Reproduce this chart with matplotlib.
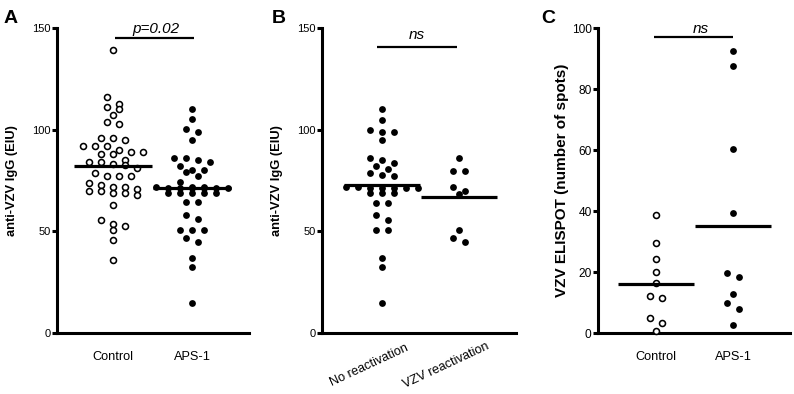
# coding=utf-8
import matplotlib
matplotlib.use('Agg')
import matplotlib.pyplot as plt
import matplotlib.transforms as mtransforms
import numpy as np

plt.rcParams['font.family'] = ['Liberation Sans', 'DejaVu Sans']

# ---- dados ----
# painel A: anti-VZV IgG (EIU)
cat_a = ['Control', 'APS-1']
ctrl_a = [139.0, 116.1, 112.8, 111.1, 110.2, 107.4, 103.9, 103.0, 96.1, 95.1, 96.1,
          92.1, 92.1, 92.1, 89.8, 88.9, 88.9, 87.9, 87.9, 83.9, 84.9, 83.9, 82.6, 83.0,
          81.3, 78.7, 77.0, 77.0, 77.0, 73.8, 72.8, 71.8, 71.8, 70.8, 69.8, 69.8, 68.9,
          68.9, 67.9, 63.0, 55.7, 53.8, 52.8, 50.8, 45.9, 35.7]
aps_a = [110.0, 105.0, 100.2, 99.0, 94.9, 85.9, 85.9, 84.9, 83.9, 82.0, 80.0, 80.0,
         79.0, 77.0, 74.1, 71.8, 71.7, 71.6, 71.5, 71.5, 71.4, 71.4, 71.3, 71.2,
         69.0, 69.0, 69.0, 68.8, 68.8, 64.2, 64.2, 58.0, 55.9, 50.8, 50.8, 50.8,
         46.8, 44.8, 36.8, 32.7, 14.9]
line_a = [82.3, 71.2]

# painel B: anti-VZV IgG (EIU) por reativacao
cat_b = ['No reactivation', 'VZV reactivation']
norea_b = [110.0, 104.9, 99.8, 99.0, 99.0, 94.9, 86.0, 85.0, 83.7, 81.9, 80.9, 78.9,
           77.6, 77.0, 71.7, 71.6, 71.5, 71.5, 71.4, 71.4, 71.3, 68.8, 68.8, 68.8,
           63.7, 63.7, 57.9, 55.8, 50.8, 50.8, 36.7, 32.7, 14.6]
rea_b = [85.9, 79.8, 79.8, 71.9, 69.9, 68.6, 50.8, 46.7, 44.7]
line_b = [72.6, 66.7]

# painel C: VZV ELISPOT
cat_c = ['Control', 'APS-1']
ctrl_c = [38.9, 29.5, 24.5, 20.2, 16.4, 12.2, 11.5, 4.9, 3.3, 0.7]
aps_c = [92.7, 87.7, 60.5, 39.3, 19.9, 18.4, 12.9, 9.8, 7.9, 2.6]
line_c = [16.3, 35.1]

yticks_ab = [0, 50, 100, 150]
yticks_c = [0, 20, 40, 60, 80, 100]

LW = 2.2  # espessura dos eixos


def swarm(ax, vals, bin_px=5.0, step_px=12.0, half_px=38.0):
    """Espalha os pontos em linhas (estilo Prism) usando a escala do eixo"""
    vals = np.asarray(vals, dtype=float)
    p0 = ax.transData.transform((0, 0))
    p1 = ax.transData.transform((1, 1))
    ppx = p1[0] - p0[0]
    ppy = p1[1] - p0[1]
    order = np.argsort(-vals, kind='stable')
    bins = []
    cur = [order[0]]
    for i in order[1:]:
        if (vals[cur[0]] - vals[i]) * ppy < bin_px:
            cur.append(i)
        else:
            bins.append(cur)
            cur = [i]
    bins.append(cur)
    offs = np.zeros(len(vals))
    for b in bins:
        n = len(b)
        step = step_px if n == 1 else min(step_px, 2 * half_px / (n - 1))
        for k, i in enumerate(b):
            offs[i] = (k - (n - 1) / 2.0) * step / ppx
    return offs


def grupo(ax, pos, vals, cheio, bin_px=5.0):
    x = pos + swarm(ax, vals, bin_px)
    if cheio:
        ax.plot(x, vals, 'o', ms=4.9, mfc='black', mec='black', mew=0,
                clip_on=False, zorder=3)
    else:
        ax.plot(x, vals, 'o', ms=4.3, mfc='white', mec='black', mew=1.15,
                clip_on=False, zorder=3)


def eixo(ax, xlim, ylim, yticks, ylabel, ylab_x, ylab_size, tick_size):
    ax.set_xlim(xlim)
    ax.set_ylim(ylim)
    ax.spines['top'].set_visible(False)
    ax.spines['right'].set_visible(False)
    ax.spines['left'].set_linewidth(LW)
    ax.spines['bottom'].set_linewidth(LW)
    ax.set_yticks(yticks)
    ax.tick_params(axis='y', length=3.8, width=LW, pad=0.8, labelsize=tick_size)
    ax.tick_params(axis='x', length=0)
    ax.text(ylab_x, 0.5, ylabel, transform=ax.transAxes, rotation=90,
            ha='center', va='center', fontsize=ylab_size, fontweight='bold')


def linhas(ax, medias):
    for i, m in enumerate(medias):
        ax.plot([i - 0.49, i + 0.49], [m, m], color='black', lw=2.3,
                solid_capstyle='butt', zorder=4)


def barra(ax, x0, x1, y, texto, ty, tx):
    ax.plot([x0, x1], [y, y], color='black', lw=1.6, clip_on=False,
            solid_capstyle='butt')
    ax.text(tx, ty, texto, ha='center', va='baseline', fontsize=11,
            fontstyle='italic', clip_on=False)


fig = plt.figure(figsize=(7.94, 3.94), dpi=100)

# ---- painel A ----
axA = fig.add_axes([57 / 794, 1 - 333 / 394, 192 / 794, 305 / 394])
eixo(axA, (-0.71, 1.72), (0, 150), yticks_ab, 'anti-VZV IgG (EIU)', -0.232, 9.3, 8)
grupo(axA, 0, ctrl_a, False, bin_px=7.0)
grupo(axA, 1, aps_a, True)
linhas(axA, line_a)
axA.set_xticks([0, 1])
axA.set_xticklabels(cat_a, fontsize=9.2)
axA.tick_params(axis='x', pad=13)
barra(axA, 0.03, 1.03, 145, 'p=0.02', 147.7, 0.54)

# ---- painel B ----
axB = fig.add_axes([322 / 794, 1 - 333 / 394, 194 / 794, 305 / 394])
eixo(axB, (-0.78, 1.74), (0, 150), yticks_ab, 'anti-VZV IgG (EIU)', -0.232, 9.3, 8)
grupo(axB, 0, norea_b, True)
grupo(axB, 1, rea_b, True)
linhas(axB, line_b)
axB.set_xticks([0, 1])
axB.set_xticklabels(cat_b, fontsize=9.2, rotation=25, ha='center', va='center',
                    rotation_mode='anchor')
axB.tick_params(axis='x', pad=23.4)
desloc = mtransforms.ScaledTranslation(-0.13, 0, fig.dpi_scale_trans)
for lab in axB.get_xticklabels():
    lab.set_transform(lab.get_transform() + desloc)
barra(axB, -0.06, 0.97, 140.8, 'ns', 144.5, 0.45)

# ---- painel C ----
axC = fig.add_axes([598 / 794, 1 - 333.3 / 394, 192 / 794, 305 / 394])
eixo(axC, (-0.75, 1.74), (0, 100), yticks_c, 'VZV ELISPOT (number of spots)',
     -0.1875, 11, 8.6)
grupo(axC, 0, ctrl_c, False, bin_px=6.5)
grupo(axC, 1, aps_c, True, bin_px=6.5)
linhas(axC, line_c)
axC.set_xticks([0, 1])
axC.set_xticklabels(cat_c, fontsize=9.2)
axC.tick_params(axis='x', pad=13)
barra(axC, -0.03, 1.0, 97, 'ns', 98.4, 0.58)

# letras dos paineis
for x, letra in [(3.3, 'A'), (271.7, 'B'), (541.7, 'C')]:
    fig.text(x / 794, 1 - 23.3 / 394, letra, fontsize=14, fontweight='bold',
             ha='left', va='baseline')

plt.savefig('out.png', dpi=100)
